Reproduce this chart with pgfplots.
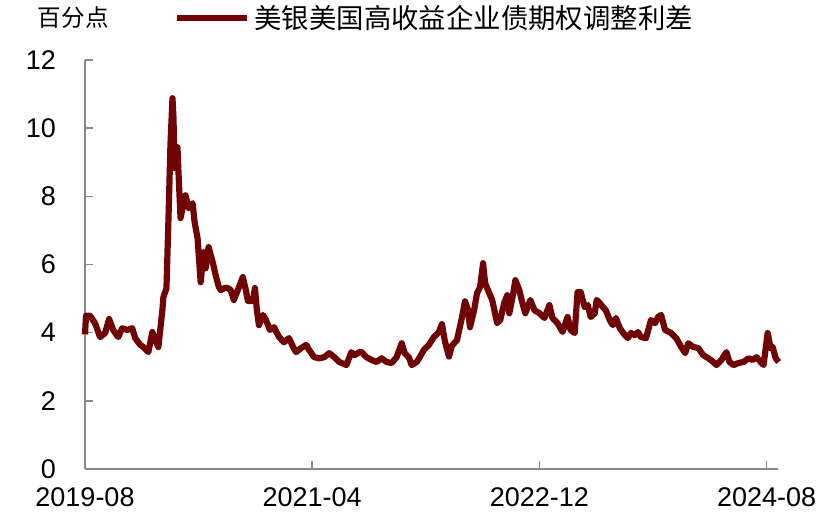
\documentclass[border=0pt]{standalone}
\usepackage{pgfplots}
\pgfplotsset{compat=1.18}
\usepackage{fontspec}
\setmainfont{Liberation Sans}
\newfontfamily\cjk{Noto Sans CJK SC}
\definecolor{spread}{RGB}{112,4,4}
\definecolor{axgray}{RGB}{137,137,137}
\begin{document}
\begin{tikzpicture}
\useasboundingbox (-42.5pt,-28pt) rectangle (377.5pt,234.5pt);
\begin{axis}[
  scale only axis, width=346.5pt, height=204.5pt,
  at={(0,0)}, anchor=south west,
  xmin=0, xmax=61, ymin=0, ymax=12,
  axis lines=left, axis line style={-, axgray, line width=1pt},
  tick style={axgray, line width=0.8pt}, tick align=inside, major tick length=4pt,
  xtick={0,20,40,60}, xticklabels={2019-08,2021-04,2022-12,2024-08},
  ytick={0,2,4,6,8,10,12},
  ticklabel style={font=\fontsize{13.5}{16}\selectfont, text=black},
  /pgf/number format/assume math mode=true,
  xticklabel style={yshift=-6pt},
  yticklabel style={xshift=-11pt},
  ylabel={\cjk 百分点},
  ylabel style={rotate=-90, at={(axis description cs:-0.017,1.103)}, anchor=center, font=\fontsize{11.8}{14}\selectfont},
  legend style={draw=none, fill=none, at={(axis description cs:0.128,1.103)}, anchor=west, inner sep=0pt, font=\cjk\fontsize{13.7}{16}\selectfont},
  legend image code/.code={\draw[#1, line width=3.2pt] (0pt,0pt) -- (35pt,0pt);},
  clip=false,
]
\addplot[spread, line width=3.1pt, line join=round] coordinates {
(0.00,3.95) (0.09,4.5) (0.44,4.5) (0.88,4.28) (1.33,3.87) (1.77,3.99) (2.12,4.40) (2.48,4.08)
(2.92,3.87) (3.27,4.13) (3.72,4.08) (4.16,4.13) (4.42,3.84) (4.87,3.64) (5.13,3.58) (5.58,3.43)
(5.93,4.02) (6.19,3.78) (6.46,3.58) (6.81,4.66) (6.90,5.04) (7.17,5.3) (7.35,7.36) (7.52,9.5)
(7.70,10.88) (7.79,10.3) (7.88,8.83) (8.14,9.44) (8.23,8.7) (8.41,7.36) (8.58,7.65) (8.85,8.03)
(9.12,7.65) (9.47,7.8) (9.65,7.24) (9.91,6.77) (10.18,5.48) (10.44,6.36) (10.62,5.89) (10.88,6.51)
(11.24,6.07) (11.50,5.69) (11.77,5.35) (11.95,5.25) (12.30,5.31) (12.57,5.31) (12.83,5.25) (13.10,4.96)
(13.45,5.25) (13.89,5.63) (14.16,5.25) (14.34,4.93) (14.78,4.93) (14.96,5.31) (15.13,4.66) (15.31,4.22)
(15.66,4.52) (15.93,4.37) (16.28,4.08) (16.64,4.16) (17.08,3.87) (17.52,3.72) (17.96,3.84) (18.32,3.58)
(18.58,3.43) (19.03,3.55) (19.47,3.64) (19.73,3.49) (20.18,3.28) (20.62,3.25) (21.06,3.28) (21.50,3.40)
(21.95,3.28) (22.39,3.14) (23.01,3.05) (23.45,3.43) (23.72,3.34) (24.16,3.43) (24.34,3.43) (24.78,3.28)
(25.22,3.20) (25.66,3.14) (26.11,3.25) (26.55,3.14) (26.99,3.11) (27.43,3.28) (27.88,3.69) (28.14,3.40)
(28.50,3.28) (28.76,3.05) (29.20,3.14) (29.47,3.28) (29.82,3.49) (30.27,3.64) (30.71,3.87) (31.15,4.02)
(31.42,4.25) (31.68,3.75) (32.04,3.30) (32.30,3.62) (32.74,3.78) (33.19,4.46) (33.45,4.92) (33.72,4.66)
(33.89,4.16) (34.25,4.66) (34.51,5.16) (34.78,5.34) (35.04,6.04) (35.22,5.45) (35.58,5.16) (35.84,4.96)
(36.28,4.28) (36.55,4.37) (36.90,4.87) (37.17,5.10) (37.35,4.57) (37.70,5.16) (37.88,5.54) (38.23,5.25)
(38.50,4.87) (38.76,4.57) (39.20,4.96) (39.56,4.66) (40.00,4.57) (40.44,4.43) (40.88,4.81) (41.15,4.43)
(41.59,4.28) (42.04,4.02) (42.48,4.46) (42.74,4.08) (43.10,3.99) (43.36,5.19) (43.63,5.19) (43.98,4.75)
(44.25,4.81) (44.51,4.46) (44.87,4.57) (45.04,4.96) (45.31,4.87) (45.58,4.75) (45.84,4.66) (46.19,4.37)
(46.46,4.22) (46.73,4.43) (47.08,4.13) (47.52,3.93) (47.79,3.84) (48.05,3.99) (48.41,3.93) (48.67,4.02)
(48.94,3.87) (49.38,3.84) (49.82,4.37) (50.18,4.28) (50.44,4.46) (50.71,4.52) (51.06,4.08) (51.59,3.99)
(52.04,3.84) (52.48,3.58) (52.83,3.40) (53.10,3.69) (53.54,3.58) (53.98,3.55) (54.42,3.34) (54.87,3.25)
(55.31,3.14) (55.58,3.05) (56.02,3.20) (56.46,3.43) (56.73,3.14) (57.08,3.05) (57.52,3.11) (57.96,3.14)
(58.41,3.25) (58.76,3.20) (59.12,3.28) (59.47,3.14) (59.73,3.05) (60.09,3.99) (60.35,3.55) (60.53,3.58)
(60.80,3.25) (61.06,3.14)
};
\addlegendentry{美银美国高收益企业债期权调整利差}
\end{axis}
\end{tikzpicture}
\end{document}
